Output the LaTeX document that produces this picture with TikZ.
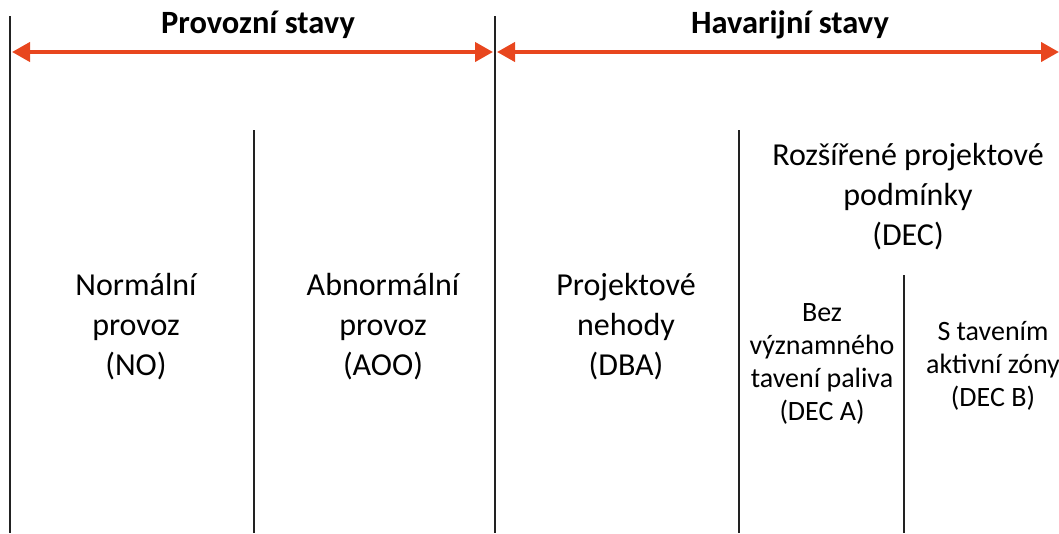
\documentclass[tikz,border=0pt]{standalone}
\usepackage{fontspec}
\setmainfont{Carlito}
\usetikzlibrary{arrows.meta}
\definecolor{arrowred}{HTML}{E8461E}
\definecolor{divgray}{HTML}{222222}
\begin{document}
\begin{tikzpicture}[x=1pt,y=-1pt,
  divider/.style={draw=divgray, line width=1.8pt},
  spanarrow/.style={draw=arrowred, line width=4pt,
    {Triangle[length=18pt,width=19pt]}-{Triangle[length=18pt,width=19pt]}},
  heading/.style={font=\fontsize{32.5}{38}\selectfont\bfseries, inner sep=0pt, anchor=base},
  bigtext/.style={font=\fontsize{32}{40}\selectfont, align=center, inner sep=0pt},
  smalltext/.style={font=\fontsize{28}{33}\selectfont, align=center, inner sep=0pt}]
\useasboundingbox (0,0) rectangle (1059,533);
% divider coordinates
\coordinate (d1t) at (10,16);   \coordinate (d1b) at (10,533);
\coordinate (d2t) at (254,130); \coordinate (d2b) at (254,533);
\coordinate (d3t) at (495,16);  \coordinate (d3b) at (495,533);
\coordinate (d4t) at (739,130); \coordinate (d4b) at (739,533);
\coordinate (d5t) at (904,275); \coordinate (d5b) at (904,533);
\draw[divider] (d1t) -- (d1b);
\draw[divider] (d2t) -- (d2b);
\draw[divider] (d3t) -- (d3b);
\draw[divider] (d4t) -- (d4b);
\draw[divider] (d5t) -- (d5b);
% arrows
\coordinate (a1l) at (12,52);  \coordinate (a1r) at (493,52);
\coordinate (a2l) at (497,52); \coordinate (a2r) at (1059,52);
\draw[spanarrow] (a1l) -- (a1r);
\draw[spanarrow] (a2l) -- (a2r);
% headings
\node[heading] (prov) at (258,33) {Provozní stavy};
\node[heading] (hav) at (790,33) {Havarijní stavy};
% columns
\node[bigtext] (no) at (136,327) {Normální\\provoz\\(NO)};
\node[bigtext] (aoo) at (383,327) {Abnormální\\provoz\\(AOO)};
\node[bigtext] (dba) at (626,327) {Projektové\\nehody\\(DBA)};
\node[bigtext] (dec) at (908,197) {Rozšířené projektové\\podmínky\\(DEC)};
\node[smalltext] (deca) at (822,364) {Bez\\významného\\tavení paliva\\(DEC A)};
\node[smalltext] (decb) at (993,366) {S tavením\\aktivní zóny\\(DEC B)};
\end{tikzpicture}
\end{document}
